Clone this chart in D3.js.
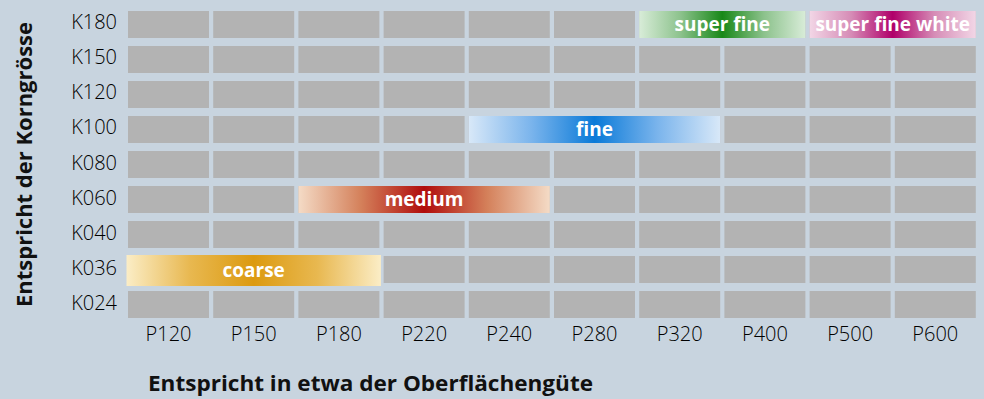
<!DOCTYPE html>
<html>
<head>
<meta charset="utf-8">
<script src="https://cdn.jsdelivr.net/npm/d3@7"></script>
<style>
  html, body { margin: 0; padding: 0; background: #c8d4df; }
  svg { display: block; font-family: "Open Sans", "DejaVu Sans", sans-serif; }
</style>
</head>
<body>
<svg id="chart" width="984" height="399"></svg>
<script>
// Grain sizes (rows, top to bottom) and surface grades (columns)
const grainSizes = ["K180", "K150", "K120", "K100", "K080", "K060", "K040", "K036", "K024"];
const surfaceGrades = ["P120", "P150", "P180", "P220", "P240", "P280", "P320", "P400", "P500", "P600"];

// Product ranges: row plus first and last covered column
const rangeLabels = ["coarse", "medium", "fine", "super fine", "super fine white"];
const rangeRows   = ["K036", "K060", "K100", "K180", "K180"];
const rangeFrom   = ["P120", "P180", "P240", "P320", "P500"];
const rangeTo     = ["P180", "P240", "P320", "P400", "P600"];

// Gradient colours for each range: edge tint, quarter tone and centre colour
const rangeEdge    = ["#fbedc6", "#f4dbc6", "#d8e8f8", "#d8ecd8", "#f2d6e6"];
const rangeQuarter = ["#e8b850", "#d4805a", "#7ab4ec", "#8cc28c", "#d68cb6"];
const rangeCentre  = ["#dc9a10", "#b00c0c", "#0a7ad8", "#188818", "#b0006a"];

const svg = d3.select("#chart");
const defs = svg.append("defs");

const x = d3.scaleBand()
  .domain(surfaceGrades)
  .range([128, 975.8])
  .paddingInner(0.0493)
  .paddingOuter(0);

const y = d3.scaleBand()
  .domain(grainSizes)
  .range([11, 318])
  .paddingInner(0.2286)
  .paddingOuter(0);

// Grey grid of cells
const cells = [];
grainSizes.forEach(r => surfaceGrades.forEach(c => cells.push({ r, c })));
svg.append("g")
  .selectAll("rect")
  .data(cells)
  .join("rect")
  .attr("x", d => x(d.c))
  .attr("y", d => y(d.r))
  .attr("width", x.bandwidth())
  .attr("height", y.bandwidth())
  .attr("fill", "#b3b3b3");

// Coloured range bars with symmetric horizontal gradients
const ranges = rangeLabels.map((label, i) => ({
  label, i,
  row: rangeRows[i], from: rangeFrom[i], to: rangeTo[i]
}));

ranges.forEach(d => {
  const g = defs.append("linearGradient")
    .attr("id", "grad" + d.i)
    .attr("x1", "0%").attr("x2", "100%")
    .attr("y1", "0%").attr("y2", "0%");
  [[0, rangeEdge], [25, rangeQuarter], [50, rangeCentre], [75, rangeQuarter], [100, rangeEdge]]
    .forEach(([o, arr]) => g.append("stop").attr("offset", o + "%").attr("stop-color", arr[d.i]));
});

// the coarse bar is drawn a little oversized
const grow = d => d.label === "coarse" ? { l: 1.5, r: 1.5, t: 1, b: 3 } : { l: 0, r: 0, t: 0, b: 0 };

const bars = svg.append("g")
  .selectAll("g")
  .data(ranges)
  .join("g");

bars.append("rect")
  .attr("x", d => x(d.from) - grow(d).l)
  .attr("y", d => y(d.row) - grow(d).t)
  .attr("width", d => x(d.to) + x.bandwidth() - x(d.from) + grow(d).l + grow(d).r)
  .attr("height", d => y.bandwidth() + grow(d).t + grow(d).b)
  .attr("fill", d => `url(#grad${d.i})`);

bars.append("text")
  .attr("x", d => (x(d.from) + x(d.to) + x.bandwidth()) / 2)
  .attr("y", d => y(d.row) + y.bandwidth() / 2 + (grow(d).b - grow(d).t) / 2)
  .attr("dy", "0.35em")
  .attr("text-anchor", "middle")
  .attr("fill", "#ffffff")
  .attr("font-weight", 700)
  .attr("font-size", 19)
  .text(d => d.label);

// Axes
const yAxis = svg.append("g")
  .attr("transform", "translate(128,0)")
  .call(d3.axisLeft(y).tickSize(0).tickPadding(11));
yAxis.select(".domain").remove();
yAxis.selectAll("text")
  .attr("font-size", 20)
  .attr("font-weight", 350)
  .attr("font-family", "'Open Sans', sans-serif")
  .attr("fill", "#000000")
  .attr("dy", "0.25em");

const xAxis = svg.append("g")
  .attr("transform", "translate(0,318)")
  .call(d3.axisBottom(x).tickSize(0).tickPadding(9));
xAxis.select(".domain").remove();
xAxis.selectAll("text")
  .attr("font-size", 20)
  .attr("font-weight", 350)
  .attr("font-family", "'Open Sans', sans-serif")
  .attr("fill", "#000000");

// Axis titles
svg.append("text")
  .attr("x", 148)
  .attr("y", 391)
  .attr("font-weight", 700)
  .attr("font-size", 22)
  .attr("textLength", 445)
  .attr("lengthAdjust", "spacingAndGlyphs")
  .attr("fill", "#111111")
  .text("Entspricht in etwa der Oberflächengüte");

svg.append("text")
  .attr("transform", "translate(32,164.5) rotate(-90)")
  .attr("text-anchor", "middle")
  .attr("font-weight", 700)
  .attr("font-size", 21)
  .attr("textLength", 285)
  .attr("lengthAdjust", "spacingAndGlyphs")
  .attr("fill", "#111111")
  .text("Entspricht der Korngrösse");
</script>
</body>
</html>
